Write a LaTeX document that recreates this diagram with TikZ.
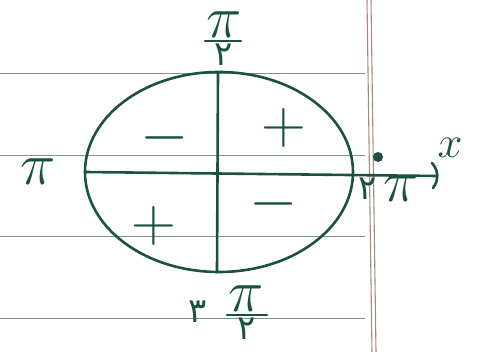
\documentclass[tikz,border=0pt]{standalone}
\usepackage{fontspec}
\newfontfamily\pfont{DejaVu Sans}
\begin{document}
\begin{tikzpicture}[x=1pt,y=-1pt,
  ink/.style={draw=inkc,line width=2.6pt,line cap=round,line join=round},
  ruled/.style={draw=rulec,line width=1pt},
  lbl/.style={text=inkc,font=\Huge,scale=2.4,inner sep=0pt},
  dig/.style={text=inkc,font=\fontsize{34}{36}\selectfont\pfont,inner sep=0pt},
  sgn/.style={text=inkc,font=\Huge,scale=2.5,inner sep=0pt}]
\definecolor{inkc}{HTML}{1A5242}
\definecolor{marg}{HTML}{A88880}
\definecolor{rulec}{HTML}{8090A0}
\useasboundingbox (0,0) rectangle (477,352);
\fill[white] (0,0) rectangle (477,352);
% ruled paper lines
\foreach \yy in {74,156,237,319} \draw[ruled] (0,\yy) -- (365,\yy);
\draw[draw=marg,line width=1.1pt] (367,0) -- (372,352);
\draw[draw=marg,line width=1.1pt] (371,0) -- (376,352);
% circle
\coordinate (c) at (219,172);
\draw[ink] (c) ellipse [x radius=134, y radius=100];
% axes
\coordinate (l) at (85,172);
\coordinate (r) at (437,176);
\coordinate (t) at (218,73);
\coordinate (b) at (217,272);
\draw[ink] (l) -- (r);
\draw[ink] (t) -- (b);
\draw[ink] (432,163) to[bend left=40] (433,188);
\fill[inkc] (378,157) circle (5);
% labels
\node[lbl,anchor=south] (top) at (224,38) {$\pi$};
\draw[ink] (205,41) -- (241,41);
\node[dig,anchor=north] (topd) at (224,44) {۲};
\node[lbl] (left) at (38,172) {$\pi$};
\node[dig] (right2) at (368,189) {۲};
\node[lbl] (right) at (401,189) {$\pi$};
\node[lbl,scale=0.75] (xl) at (450,148) {$x$};
\node[dig] (bot3) at (198,312) {۳};
\node[lbl,anchor=south] (botpi) at (246,312) {$\pi$};
\draw[ink] (227,315) -- (267,315);
\node[dig,anchor=north] (botd) at (247,318) {۲};
% signs
\node[sgn] (q2) at (165,138) {$-$};
\node[sgn] (q1) at (284,128) {$+$};
\node[sgn] (q3) at (154,226) {$+$};
\node[sgn] (q4) at (274,204) {$-$};
\end{tikzpicture}
\end{document}
